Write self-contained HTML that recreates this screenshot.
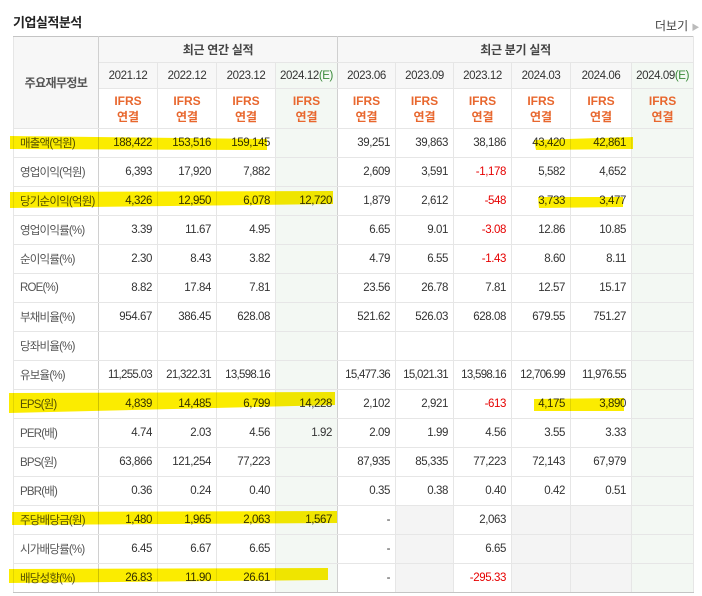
<!DOCTYPE html>
<html><head><meta charset="utf-8">
<style>
body{margin:0;background:#fff;width:702px;height:596px;overflow:hidden;position:relative;font-family:"Liberation Sans","Noto Sans CJK KR",sans-serif;}
.title{position:absolute;left:13px;top:12px;font-size:13px;font-weight:bold;color:#222;letter-spacing:-0.5px;}
.more{position:absolute;left:655px;top:17px;font-size:12px;color:#444;}
.more span{color:#bbb;font-size:8px;}
table{position:absolute;left:13px;top:36px;border-collapse:collapse;table-layout:fixed;width:680px;font-size:11.5px;color:#333;}
td,th{border:1px solid #e6e6e6;padding:0;white-space:nowrap;overflow:hidden;}
tr:first-child th{border-top:1px solid #c4c4c4;}
th{font-weight:normal;background:#f7f7f7;color:#333;letter-spacing:-0.4px;}
.h1 th{height:25px;font-weight:bold;color:#444;font-size:12px;letter-spacing:-0.3px;}
.h2 th{height:25px;}
.h3 th{height:39px;background:#fff;color:#e8672e;line-height:16px;font-size:12px;font-weight:bold;letter-spacing:0;}
td{height:28px;text-align:right;padding-right:5px;letter-spacing:-0.4px;}
td.l{text-align:left;padding-left:6px;padding-right:0;color:#555;letter-spacing:-0.8px;}
.lh{background:#f7f7f7!important;color:#555!important;font-weight:bold;letter-spacing:-0.6px!important;}
.e{background:#f3f8f3!important;}
.g{background:#f4f4f4;}
.r{color:#e60000;}
.sep td{border-top:1px solid #c4c4c4;}
.last td{border-bottom:1px solid #c4c4c4;}
.lc{border-right:1px solid #d0d0d0!important;}
.ac{border-right:1px solid #d0d0d0!important;}
.ee{color:#3a8a3a;}
svg{position:absolute;left:0;top:0;mix-blend-mode:multiply;}
</style></head><body>
<div class="title">기업실적분석</div>
<div class="more">더보기 <span>▶</span></div>
<table>
<colgroup><col style="width:85px"><col style="width:59px"><col style="width:59px"><col style="width:59px"><col style="width:62px"><col style="width:58px"><col style="width:58px"><col style="width:58px"><col style="width:59px"><col style="width:61px"><col style="width:62px"></colgroup>
<tr class="h1"><th rowspan="3" class="lh lc">주요재무정보</th><th colspan="4" class="ac">최근 연간 실적</th><th colspan="6">최근 분기 실적</th></tr>
<tr class="h2"><th>2021.12</th><th>2022.12</th><th>2023.12</th><th class="e ac">2024.12<span class="ee">(E)</span></th><th>2023.06</th><th>2023.09</th><th>2023.12</th><th>2024.03</th><th>2024.06</th><th class="e">2024.09<span class="ee">(E)</span></th></tr>
<tr class="h3"><th>IFRS<br>연결</th><th>IFRS<br>연결</th><th>IFRS<br>연결</th><th class="e ac">IFRS<br>연결</th><th>IFRS<br>연결</th><th>IFRS<br>연결</th><th>IFRS<br>연결</th><th>IFRS<br>연결</th><th>IFRS<br>연결</th><th class="e">IFRS<br>연결</th></tr>
<tr><td class="l lc">매출액(억원)</td><td>188,422</td><td>153,516</td><td>159,145</td><td class="e ac"></td><td>39,251</td><td>39,863</td><td>38,186</td><td>43,420</td><td>42,861</td><td class="e"></td></tr>
<tr><td class="l lc">영업이익(억원)</td><td>6,393</td><td>17,920</td><td>7,882</td><td class="e ac"></td><td>2,609</td><td>3,591</td><td class="r">-1,178</td><td>5,582</td><td>4,652</td><td class="e"></td></tr>
<tr><td class="l lc">당기순이익(억원)</td><td>4,326</td><td>12,950</td><td>6,078</td><td class="e ac">12,720</td><td>1,879</td><td>2,612</td><td class="r">-548</td><td>3,733</td><td>3,477</td><td class="e"></td></tr>
<tr class="sep"><td class="l lc">영업이익률(%)</td><td>3.39</td><td>11.67</td><td>4.95</td><td class="e ac"></td><td>6.65</td><td>9.01</td><td class="r">-3.08</td><td>12.86</td><td>10.85</td><td class="e"></td></tr>
<tr><td class="l lc">순이익률(%)</td><td>2.30</td><td>8.43</td><td>3.82</td><td class="e ac"></td><td>4.79</td><td>6.55</td><td class="r">-1.43</td><td>8.60</td><td>8.11</td><td class="e"></td></tr>
<tr><td class="l lc">ROE(%)</td><td>8.82</td><td>17.84</td><td>7.81</td><td class="e ac"></td><td>23.56</td><td>26.78</td><td>7.81</td><td>12.57</td><td>15.17</td><td class="e"></td></tr>
<tr><td class="l lc">부채비율(%)</td><td>954.67</td><td>386.45</td><td>628.08</td><td class="e ac"></td><td>521.62</td><td>526.03</td><td>628.08</td><td>679.55</td><td>751.27</td><td class="e"></td></tr>
<tr><td class="l lc">당좌비율(%)</td><td></td><td></td><td></td><td class="e ac"></td><td></td><td></td><td></td><td></td><td></td><td class="e"></td></tr>
<tr><td class="l lc">유보율(%)</td><td style="letter-spacing:-0.7px">11,255.03</td><td style="letter-spacing:-0.7px">21,322.31</td><td style="letter-spacing:-0.7px">13,598.16</td><td class="e ac"></td><td style="letter-spacing:-0.7px">15,477.36</td><td style="letter-spacing:-0.7px">15,021.31</td><td style="letter-spacing:-0.7px">13,598.16</td><td style="letter-spacing:-0.7px">12,706.99</td><td style="letter-spacing:-0.7px">11,976.55</td><td class="e"></td></tr>
<tr class="sep"><td class="l lc">EPS(원)</td><td>4,839</td><td>14,485</td><td>6,799</td><td class="e ac">14,228</td><td>2,102</td><td>2,921</td><td class="r">-613</td><td>4,175</td><td>3,890</td><td class="e"></td></tr>
<tr><td class="l lc">PER(배)</td><td>4.74</td><td>2.03</td><td>4.56</td><td class="e ac">1.92</td><td>2.09</td><td>1.99</td><td>4.56</td><td>3.55</td><td>3.33</td><td class="e"></td></tr>
<tr><td class="l lc">BPS(원)</td><td>63,866</td><td>121,254</td><td>77,223</td><td class="e ac"></td><td>87,935</td><td>85,335</td><td>77,223</td><td>72,143</td><td>67,979</td><td class="e"></td></tr>
<tr><td class="l lc">PBR(배)</td><td>0.36</td><td>0.24</td><td>0.40</td><td class="e ac"></td><td>0.35</td><td>0.38</td><td>0.40</td><td>0.42</td><td>0.51</td><td class="e"></td></tr>
<tr class="sep"><td class="l lc">주당배당금(원)</td><td>1,480</td><td>1,965</td><td>2,063</td><td class="e ac">1,567</td><td>-</td><td class="g"></td><td>2,063</td><td class="g"></td><td class="g"></td><td class="e"></td></tr>
<tr><td class="l lc">시가배당률(%)</td><td>6.45</td><td>6.67</td><td>6.65</td><td class="e ac"></td><td>-</td><td class="g"></td><td>6.65</td><td class="g"></td><td class="g"></td><td class="e"></td></tr>
<tr class="last"><td class="l lc">배당성향(%)</td><td>26.83</td><td>11.90</td><td>26.61</td><td class="e ac"></td><td>-</td><td class="g"></td><td class="r">-295.33</td><td class="g"></td><td class="g"></td><td class="e"></td></tr>
</table>
<svg width="702" height="596">
<g fill="#fbec00">
<polygon points="10,136 267,139 267,150 10,149"/>
<polygon points="534,140 633,137 633,149 536,150"/>
<polygon points="10,192 333,191 333,204 10,208"/>
<polygon points="538,197 623,197 623,207 539,208"/>
<polygon points="9,393 335,392 335,405 9,413"/>
<polygon points="534,399 624,398 624,411 534,411"/>
<polygon points="12,512 337,511 337,523 12,525"/>
<polygon points="9,569 328,568 328,580 9,583"/>
</g>
</svg>
</body></html>
